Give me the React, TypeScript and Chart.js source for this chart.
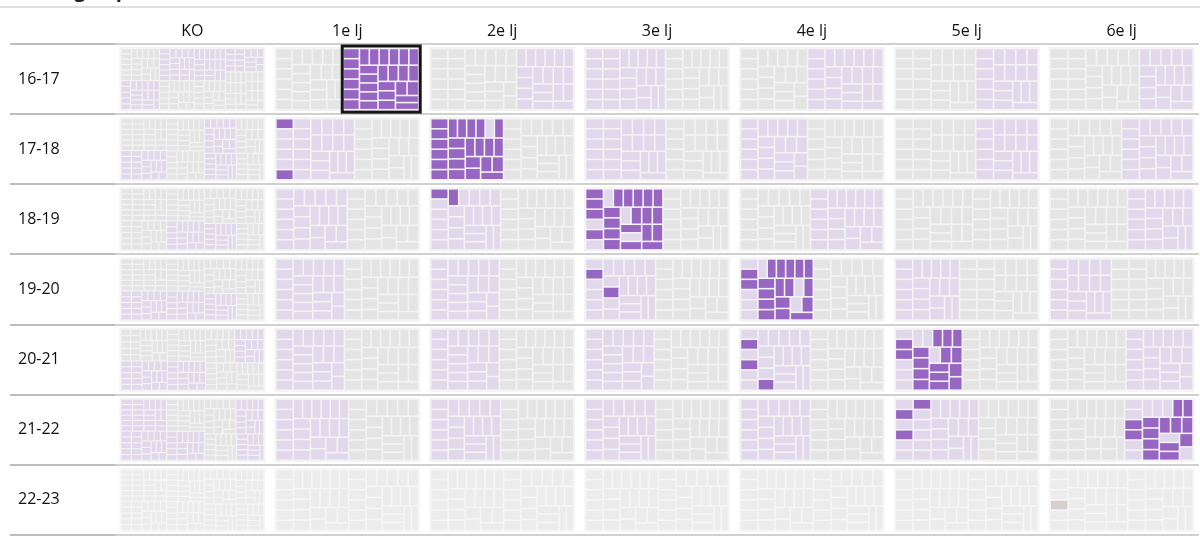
import { useEffect, useRef } from 'react';
import { Chart, registerables } from 'chart.js';

Chart.register(...registerables);

// ---------- data ----------
const COLUMNS = ['KO', '1e lj', '2e lj', '3e lj', '4e lj', '5e lj', '6e lj'];
const YEARS = ['16-17', '17-18', '18-19', '19-20', '20-21', '21-22', '22-23'];

// class = [number of pupils, tint (g = other, p = followed school, x = faded), highlighted pupils, other marked pupils]
type Cls = [number, string, (number[] | 'all')?, number[]?];

const Y16_17: Cls[][] = [
  [[22, 'g'], [20, 'p'], [20, 'p'], [18, 'g'], [18, 'p'], [16, 'g'], [16, 'p'], [14, 'g'], [12, 'g']],
  [[25, 'g'], [28, 'p', 'all']],
  [[30, 'g'], [20, 'p']],
  [[28, 'p'], [22, 'g']],
  [[23, 'g'], [26, 'p']],
  [[27, 'g'], [21, 'p']],
  [[30, 'g'], [18, 'p']],
];
const Y17_18: Cls[][] = [
  [[24, 'g'], [22, 'p'], [20, 'g'], [18, 'g'], [18, 'p'], [16, 'g'], [14, 'p'], [12, 'g']],
  [[27, 'p', [0, 5]], [22, 'g']],
  [[25, 'p', [0, 1, 2, 3, 4, 5, 6, 7, 8, 9, 11, 12, 13, 14, 15, 16, 17, 18, 19, 20, 21, 22, 23, 24]], [24, 'g']],
  [[27, 'p'], [21, 'g']],
  [[23, 'p'], [26, 'g']],
  [[27, 'g'], [21, 'p']],
  [[24, 'g'], [24, 'p']],
];
const Y18_19: Cls[][] = [
  [[24, 'g'], [22, 'g'], [20, 'g'], [18, 'p'], [18, 'g'], [16, 'g'], [14, 'p'], [12, 'g']],
  [[24, 'p'], [24, 'g']],
  [[24, 'p', [0, 6]], [25, 'g']],
  [[26, 'p', [0, 1, 2, 4, 7, 8, 9, 10, 11, 12, 13, 14, 15, 17, 18, 19, 20, 22, 23, 24, 25]], [22, 'g']],
  [[24, 'g'], [25, 'p']],
  [[26, 'g'], [22, 'g']],
  [[26, 'g'], [22, 'p']],
];
const Y19_20: Cls[][] = [
  [[24, 'g'], [22, 'p'], [20, 'g'], [18, 'p'], [18, 'g'], [16, 'g'], [14, 'p'], [12, 'g']],
  [[24, 'p'], [26, 'g']],
  [[24, 'p'], [26, 'g']],
  [[24, 'p', [1, 12]], [25, 'g']],
  [[25, 'p', [1, 2, 7, 8, 9, 10, 11, 12, 13, 14, 15, 16, 17, 19, 20, 21, 23, 24]], [24, 'g']],
  [[22, 'p'], [27, 'g']],
  [[21, 'p'], [28, 'g']],
];
const Y20_21: Cls[][] = [
  [[24, 'g'], [22, 'p'], [20, 'g'], [18, 'p'], [16, 'g'], [16, 'p'], [14, 'g'], [12, 'g']],
  [[24, 'p'], [26, 'g']],
  [[24, 'p'], [26, 'g']],
  [[24, 'p'], [26, 'g']],
  [[24, 'p', [1, 3, 14]], [25, 'g']],
  [[23, 'p', [1, 2, 8, 9, 10, 11, 12, 13, 14, 16, 17, 18, 19, 20, 21, 22]], [26, 'g']],
  [[26, 'g'], [23, 'p']],
];
const Y21_22: Cls[][] = [
  [[24, 'p'], [22, 'p'], [20, 'g'], [18, 'p'], [18, 'g'], [16, 'p'], [14, 'g'], [12, 'p']],
  [[25, 'p'], [24, 'g']],
  [[24, 'p'], [25, 'g']],
  [[24, 'p'], [25, 'g']],
  [[24, 'p'], [25, 'g']],
  [[28, 'p', [1, 3, 6]], [20, 'g']],
  [[25, 'g'], [23, 'p', [2, 3, 9, 10, 11, 12, 13, 14, 15, 16, 17, 19, 20, 21]]],
];
const Y22_23: Cls[][] = [
  [[24, 'x'], [22, 'x'], [20, 'x'], [18, 'x'], [18, 'x'], [16, 'x'], [14, 'x'], [12, 'x']],
  [[25, 'x'], [24, 'x']],
  [[25, 'x'], [24, 'x']],
  [[25, 'x'], [24, 'x']],
  [[25, 'x'], [24, 'x']],
  [[25, 'x'], [24, 'x']],
  [[26, 'x', [], [3]], [22, 'x']],
];
const CELLS = [Y16_17, Y17_18, Y18_19, Y19_20, Y20_21, Y21_22, Y22_23];
const SELECTED = { year: '16-17', column: '1e lj', cls: 1 };
const TITLE = 'Leerlingen per klas';

// ---------- styling ----------
const FILL: Record<string, string> = { g: '#e4e4e4', p: '#e1d8eb', x: '#ececec' };
const DARK = '#9766c2';
const MARK = '#d8cecb';
const FONT = { family: '"Open Sans", "DejaVu Sans", sans-serif', size: 16 };

type Rect = { x: number; y: number; w: number; h: number };

function squarify(values: number[], r: Rect): Rect[] {
  const total = values.reduce((a, b) => a + b, 0);
  const scale = (r.w * r.h) / total;
  const areas = values.map((v) => v * scale);
  const out: Rect[] = [];
  let { x, y, w, h } = r;
  let i = 0;
  const worst = (row: number[], side: number) => {
    const s = row.reduce((a, b) => a + b, 0);
    const thick = s / side;
    let m = 0;
    for (const a of row) {
      const len = a / thick;
      m = Math.max(m, len / thick, thick / len);
    }
    return m;
  };
  while (i < areas.length) {
    const side = Math.min(w, h);
    let row = [areas[i]];
    let j = i + 1;
    while (j < areas.length) {
      const next = [...row, areas[j]];
      if (worst(next, side) <= worst(row, side)) {
        row = next;
        j++;
      } else break;
    }
    const s = row.reduce((a, b) => a + b, 0);
    if (w >= h) {
      const thick = s / h;
      let yy = y;
      for (const a of row) {
        const len = a / thick;
        out.push({ x, y: yy, w: thick, h: len });
        yy += len;
      }
      x += thick;
      w -= thick;
    } else {
      const thick = s / w;
      let xx = x;
      for (const a of row) {
        const len = a / thick;
        out.push({ x: xx, y, w: len, h: thick });
        xx += len;
      }
      y += thick;
      h -= thick;
    }
    i = j;
  }
  return out;
}

function stripLayout(n: number, r: Rect, target: number): Rect[] {
  const out: Rect[] = [];
  let { x, y, w, h } = r;
  const a = (w * h) / n;
  let left = n;
  while (left > 0) {
    const vertical = w >= h;
    const side = vertical ? h : w;
    let best = 1;
    let bestCost = Infinity;
    for (let k = 1; k <= left; k++) {
      const thick = (k * a) / side;
      const len = side / k;
      const q = thick / len;
      const c = Math.max(q / target, target / q);
      if (c < bestCost) {
        bestCost = c;
        best = k;
      }
    }
    const thick = (best * a) / side;
    const len = side / best;
    for (let i = 0; i < best; i++) {
      if (vertical) out.push({ x, y: y + i * len, w: thick, h: len });
      else out.push({ x: x + i * len, y, w: len, h: thick });
    }
    if (vertical) {
      x += thick;
      w -= thick;
    } else {
      y += thick;
      h -= thick;
    }
    left -= best;
  }
  return out;
}

const treemapPlugin = {
  id: 'cellTreemaps',
  beforeDraw(chart: any) {
    const { ctx, width } = chart;
    ctx.save();
    ctx.fillStyle = '#dedede';
    ctx.fillRect(0, 6, width, 2);
    ctx.restore();
  },
  afterDatasetsDraw(chart: any) {
    const ctx = chart.ctx as CanvasRenderingContext2D;
    const xs = chart.scales.x;
    const ys = chart.scales.y;
    const colW = xs.getPixelForValue(1) - xs.getPixelForValue(0);
    const rowH = ys.getPixelForValue(1) - ys.getPixelForValue(0);
    ctx.save();
    YEARS.forEach((year, ri) => {
      CELLS[ri].forEach((classes, ci) => {
        const cx = xs.getPixelForValue(ci);
        const cy = ys.getPixelForValue(ri);
        const faded = classes.every((c) => c[1] === 'x');
        const box = { x: cx - colW / 2 + 4.5, y: cy - rowH / 2 + 3, w: colW - 9, h: rowH - 6 };
        ctx.fillStyle = faded ? '#f6f6f6' : '#f3f3f3';
        ctx.fillRect(box.x, box.y, box.w, box.h);
        const inner = { x: box.x + 1.5, y: box.y + 1.5, w: box.w - 3, h: box.h - 3 };
        const groups = squarify(classes.map((c) => c[0]), inner);
        const small = classes.length > 3;
        const gap = small ? 0.6 : 0.8;
        classes.forEach((cls, gi) => {
          const g = groups[gi];
          const pupils = stripLayout(cls[0], g, 1.8);
          const hi = cls[2];
          const marks = cls[3] || [];
          pupils.forEach((p, pi) => {
            let fill = FILL[cls[1]];
            if (hi === 'all' || (Array.isArray(hi) && hi.includes(pi))) fill = DARK;
            if (marks.includes(pi)) fill = MARK;
            ctx.fillStyle = fill;
            ctx.fillRect(p.x + gap, p.y + gap, p.w - 2 * gap, p.h - 2 * gap);
          });
          if (year === SELECTED.year && COLUMNS[ci] === SELECTED.column && gi === SELECTED.cls) {
            ctx.strokeStyle = '#161616';
            ctx.lineWidth = 3;
            ctx.strokeRect(g.x - 1, box.y - 1, g.w + 2.5, box.h + 2);
          }
        });
      });
    });
    ctx.restore();
  },
};

export default function App() {
  const ref = useRef<HTMLCanvasElement>(null);
  useEffect(() => {
    document.body.style.margin = '0';
    const chart = new Chart(ref.current as HTMLCanvasElement, {
      type: 'bar',
      data: { labels: COLUMNS, datasets: [] },
      options: {
        animation: false,
        responsive: false,
        maintainAspectRatio: false,
        layout: { padding: { top: 8, left: 18, right: 1, bottom: 14 } },
        plugins: { legend: { display: false }, tooltip: { enabled: false } },
        scales: {
          x: {
            type: 'category',
            labels: COLUMNS,
            position: 'top',
            offset: true,
            grid: { display: false, drawTicks: false },
            border: { display: false },
            ticks: { font: FONT, color: '#111', padding: 3, maxRotation: 0, autoSkip: false },
            afterFit: (s: any) => {
              s.height = 36;
            },
          },
          y: {
            type: 'category',
            labels: YEARS,
            position: 'left',
            offset: true,
            grid: { offset: true, color: '#d0d0d0', tickColor: '#bdbdbd', lineWidth: 2, drawTicks: true, tickLength: 105 },
            border: { display: false },
            ticks: { font: FONT, color: '#111', crossAlign: 'far', autoSkip: false },
            afterFit: (s: any) => {
              s.width = 97;
            },
          },
        },
      } as any,
      plugins: [treemapPlugin],
    });
    return () => chart.destroy();
  }, []);
  return (
    <div style={{ position: 'relative', width: 1200, height: 549, overflow: 'hidden', background: '#fff' }}>
      <canvas ref={ref} width={1200} height={549} style={{ display: 'block', width: 1200, height: 549 }} />
      <div
        style={{
          position: 'absolute',
          left: 5,
          top: -20,
          font: 'bold 20px "Open Sans", sans-serif',
          lineHeight: '20px',
          color: '#222',
          whiteSpace: 'nowrap',
        }}
      >
        {TITLE}
      </div>
    </div>
  );
}
